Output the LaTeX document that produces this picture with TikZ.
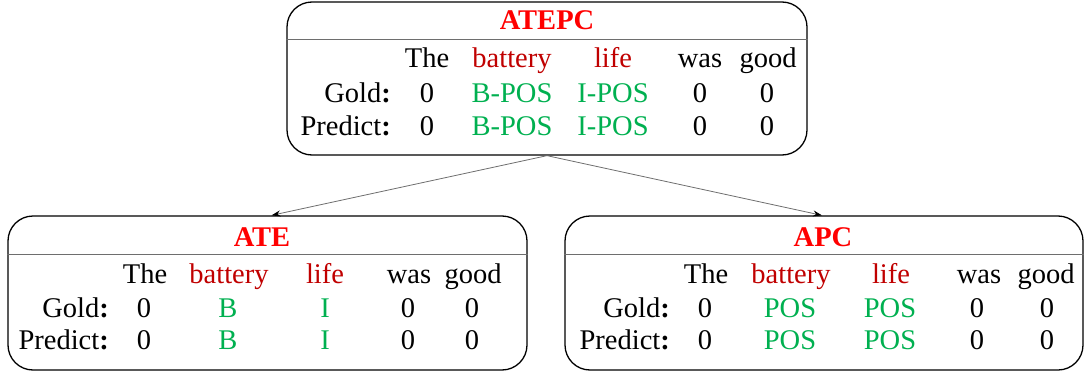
\documentclass[tikz,border=0pt]{standalone}
\usepackage{fontspec}
\setmainfont{Liberation Serif}
\usetikzlibrary{arrows.meta}
\definecolor{titlered}{RGB}{255,0,0}
\definecolor{aspred}{RGB}{192,0,0}
\definecolor{labgreen}{RGB}{0,176,80}
\definecolor{linegray}{RGB}{110,110,110}
\begin{document}
\begin{tikzpicture}[x=1pt,y=-1pt,
  every node/.style={font=\fontsize{28.5}{34}\selectfont},
  tbox/.style={draw=black, line width=1.3pt, rounded corners=25pt, inner sep=0, fill=none},
  sepline/.style={draw=linegray, line width=0.9pt},
  word/.style={anchor=base, inner sep=0},
  asp/.style={word, text=aspred},
  lab/.style={word, text=labgreen},
  ttl/.style={word, text=titlered, font=\fontsize{28.5}{34}\selectfont\bfseries},
  rowlab/.style={anchor=base east, inner sep=0},
  arr/.style={draw=linegray, line width=0.8pt, -{Stealth[length=9pt,width=6pt,color=black]}}
]
\useasboundingbox (0,0) rectangle (1085,372);

% ---------- top box ----------
\node[tbox, minimum width=520pt, minimum height=153pt] (top) at (547,78.5) {};
\draw[sepline] (top.west |- 0,39) -- (top.east |- 0,39);
\node[ttl] (tT) at (547,30) {ATEPC};
\node[word] (tw1) at (427,67) {The};
\node[asp]  (tw2) at (512,67) {battery};
\node[asp]  (tw3) at (613,67) {life};
\node[word] (tw4) at (700,67) {was};
\node[word] (tw5) at (768,67) {good};
\node[rowlab] (tg) at (391,102) {Gold\textbf{:}};
\node[word] (tg1) at (427,102) {0};
\node[lab]  (tg2) at (512,102) {B-POS};
\node[lab]  (tg3) at (613,102) {I-POS};
\node[word] (tg4) at (700,102) {0};
\node[word] (tg5) at (767,102) {0};
\node[rowlab] (tp) at (391,135) {Predict\textbf{:}};
\node[word] (tp1) at (427,135) {0};
\node[lab]  (tp2) at (512,135) {B-POS};
\node[lab]  (tp3) at (613,135) {I-POS};
\node[word] (tp4) at (700,135) {0};
\node[word] (tp5) at (767,135) {0};

% ---------- ATE box ----------
\node[tbox, minimum width=519pt, minimum height=154pt] (ate) at (267.5,293) {};
\draw[sepline] (ate.west |- 0,254) -- (ate.east |- 0,254);
\node[ttl] (aT) at (262,246) {ATE};
\node[word] (aw1) at (145,283) {The};
\node[asp]  (aw2) at (229,283) {battery};
\node[asp]  (aw3) at (325,283) {life};
\node[word] (aw4) at (409,283) {was};
\node[word] (aw5) at (473,283) {good};
\node[rowlab] (ag) at (109,317) {Gold\textbf{:}};
\node[word] (ag1) at (144,317) {0};
\node[lab]  (ag2) at (228,317) {B};
\node[lab]  (ag3) at (325,317) {I};
\node[word] (ag4) at (408,317) {0};
\node[word] (ag5) at (472,317) {0};
\node[rowlab] (ap) at (109,349) {Predict\textbf{:}};
\node[word] (ap1) at (144,349) {0};
\node[lab]  (ap2) at (228,349) {B};
\node[lab]  (ap3) at (325,349) {I};
\node[word] (ap4) at (408,349) {0};
\node[word] (ap5) at (472,349) {0};

% ---------- APC box ----------
\node[tbox, minimum width=518pt, minimum height=154pt] (apc) at (824,293) {};
\draw[sepline] (apc.west |- 0,254) -- (apc.east |- 0,254);
\node[ttl] (cT) at (823,246) {APC};
\node[word] (cw1) at (706,283) {The};
\node[asp]  (cw2) at (791,283) {battery};
\node[asp]  (cw3) at (891,283) {life};
\node[word] (cw4) at (979,283) {was};
\node[word] (cw5) at (1046,283) {good};
\node[rowlab] (cg) at (670,317) {Gold\textbf{:}};
\node[word] (cg1) at (705,317) {0};
\node[lab]  (cg2) at (790,317) {POS};
\node[lab]  (cg3) at (890,317) {POS};
\node[word] (cg4) at (977,317) {0};
\node[word] (cg5) at (1047,317) {0};
\node[rowlab] (cp) at (670,349) {Predict\textbf{:}};
\node[word] (cp1) at (705,349) {0};
\node[lab]  (cp2) at (790,349) {POS};
\node[lab]  (cp3) at (890,349) {POS};
\node[word] (cp4) at (977,349) {0};
\node[word] (cp5) at (1047,349) {0};

% ---------- connectors ----------
\draw[arr] (top.south) -- ([xshift=4pt]ate.north);
\draw[arr] (top.south) -- ([xshift=-2pt]apc.north);
\end{tikzpicture}
\end{document}
